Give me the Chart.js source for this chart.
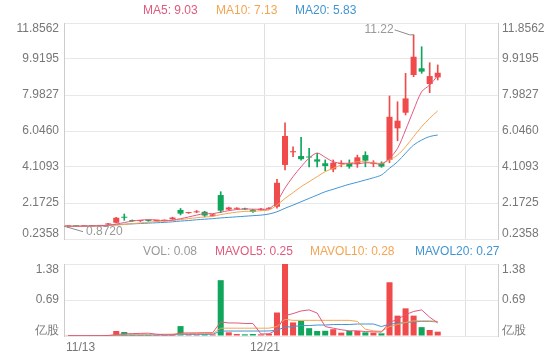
<!DOCTYPE html>
<html>
<head>
<meta charset="utf-8">
<title>K线</title>
<script src="https://cdn.jsdelivr.net/npm/chart.js@4.4.0/dist/chart.umd.min.js"></script>
<style>
    body { margin: 0; background: #fff; }
    #wrap { position: relative; width: 560px; height: 360px; font-family: "Liberation Sans", Arial, sans-serif; font-size: 12px; }
    #kBox { position: absolute; left: 0; top: 0; width: 560px; height: 245px; }
    #vBox { position: absolute; left: 0; top: 245px; width: 560px; height: 115px; }
    .lg { position: absolute; white-space: nowrap; line-height: 14px; }
</style>
</head>
<body>
<div id="wrap">
    <div id="kBox"><canvas id="kline"></canvas></div>
    <div id="vBox"><canvas id="vol"></canvas></div>
    <span class="lg" id="lgMa5" style="left:143px; top:3px; color:#df5a7d"></span>
    <span class="lg" id="lgMa10" style="left:216px; top:3px; color:#f4a553"></span>
    <span class="lg" id="lgMa20" style="left:295px; top:3px; color:#4195d3"></span>
    <span class="lg" id="lgVol" style="left:143px; top:244px; color:#999"></span>
    <span class="lg" id="lgMv5" style="left:215px; top:244px; color:#df5a7d"></span>
    <span class="lg" id="lgMv10" style="left:310px; top:244px; color:#f4a553"></span>
    <span class="lg" id="lgMv20" style="left:415px; top:244px; color:#4195d3"></span>
</div>
<script>
    // 54 slots on the axis, 47 trading days drawn
    const slotCount = 54;
    const xTickIdx = [0, 25];
    const xTickLabels = ['11/13', '12/21'];

    const openP  = [0.92,0.93,0.92,0.93,0.94,1.02,1.11,1.42,1.24,1.20,1.22,1.21,1.22,1.30,1.80,1.63,1.67,1.70,1.48,2.60,1.82,1.86,1.88,1.80,1.80,1.86,1.97,4.22,4.90,4.70,4.65,4.52,4.31,3.98,4.27,4.27,4.27,4.75,4.29,4.31,4.49,6.19,7.03,9.06,9.42,8.57,8.93];
    const closeP = [0.93,0.92,0.93,0.94,0.96,1.06,1.38,1.38,1.20,1.22,1.21,1.22,1.24,1.39,1.60,1.66,1.70,1.50,1.56,1.76,1.93,1.89,1.83,1.69,1.86,1.90,3.26,5.78,4.96,4.53,4.62,4.40,4.16,4.34,4.30,4.13,4.63,4.45,4.32,4.13,6.81,6.60,7.80,10.04,9.24,9.00,9.18];
    const highP  = [0.95,0.94,0.94,0.95,0.97,1.08,1.40,1.58,1.26,1.24,1.25,1.24,1.26,1.41,1.88,1.68,1.77,1.73,1.57,2.78,1.95,1.92,1.90,1.83,1.88,1.92,3.45,6.49,5.20,5.71,5.11,4.85,4.49,4.49,4.45,4.49,4.75,4.93,4.45,4.39,7.93,7.62,9.15,11.22,10.58,9.72,9.60];
    const lowP   = [0.872,0.90,0.91,0.92,0.93,1.00,1.10,1.24,1.18,1.17,1.18,1.18,1.20,1.29,1.53,1.61,1.65,1.43,1.46,1.65,1.80,1.84,1.81,1.67,1.78,1.84,1.90,3.95,4.66,4.48,4.12,4.12,3.91,3.85,4.12,4.04,4.09,4.12,4.12,4.09,4.34,5.52,6.91,8.97,9.15,8.11,8.79];

    const ma5  = [0.93,0.93,0.93,0.94,0.95,0.98,1.04,1.12,1.20,1.25,1.28,1.26,1.22,1.25,1.33,1.42,1.52,1.60,1.60,1.68,1.76,1.82,1.85,1.84,1.84,1.86,2.25,2.98,3.59,4.12,4.59,4.86,4.63,4.39,4.31,4.31,4.27,4.34,4.31,4.27,4.58,5.11,6.10,7.17,8.16,8.52,9.03];
    const ma10 = [0.92,0.92,0.92,0.92,0.93,0.95,0.98,1.02,1.06,1.10,1.14,1.17,1.20,1.23,1.28,1.33,1.38,1.42,1.45,1.55,1.62,1.68,1.72,1.73,1.76,1.80,2.06,2.42,2.73,3.05,3.32,3.59,3.86,4.04,4.22,4.31,4.39,4.39,4.34,4.31,4.49,4.75,5.20,5.74,6.28,6.73,7.13];
    const ma20 = [0.90,0.91,0.92,0.93,0.95,0.98,1.00,1.03,1.05,1.07,1.09,1.11,1.13,1.16,1.20,1.23,1.27,1.30,1.33,1.37,1.40,1.43,1.46,1.49,1.52,1.58,1.70,1.89,2.06,2.24,2.42,2.60,2.78,2.91,3.05,3.18,3.29,3.41,3.53,3.68,4.04,4.39,4.85,5.29,5.56,5.75,5.83];

    // volume in 亿股
    const vol    = [0.005,0.005,0.006,0.006,0.008,0.02,0.096,0.077,0.03,0.025,0.02,0.02,0.02,0.03,0.19,0.03,0.03,0.035,0.03,1.07,0.07,0.038,0.032,0.038,0.032,0.045,0.45,1.38,0.26,0.29,0.15,0.096,0.10,0.13,0.064,0.096,0.096,0.07,0.064,0.051,1.03,0.39,0.53,0.39,0.17,0.115,0.083];
    const mavol5  = [0.005,0.005,0.005,0.006,0.006,0.009,0.027,0.041,0.046,0.050,0.054,0.034,0.023,0.023,0.057,0.059,0.060,0.063,0.063,0.27,0.25,0.25,0.24,0.24,0.04,0.04,0.12,0.39,0.43,0.48,0.50,0.44,0.18,0.15,0.12,0.10,0.10,0.085,0.08,0.075,0.26,0.32,0.41,0.47,0.50,0.36,0.25];
    const mavol10 = [0.005,0.005,0.005,0.005,0.006,0.008,0.017,0.023,0.026,0.028,0.03,0.031,0.034,0.036,0.04,0.045,0.045,0.046,0.046,0.15,0.15,0.15,0.15,0.15,0.15,0.15,0.18,0.32,0.30,0.30,0.30,0.30,0.30,0.30,0.30,0.30,0.28,0.13,0.10,0.09,0.18,0.22,0.26,0.29,0.29,0.29,0.28];
    const mavol20 = [0.004,0.004,0.005,0.005,0.005,0.006,0.01,0.014,0.015,0.016,0.017,0.018,0.019,0.02,0.03,0.03,0.031,0.032,0.033,0.095,0.095,0.095,0.095,0.095,0.095,0.097,0.11,0.17,0.18,0.20,0.20,0.21,0.21,0.22,0.22,0.22,0.23,0.23,0.23,0.18,0.23,0.24,0.26,0.27,0.28,0.28,0.27];

    const priceTicks = [0.2358, 2.1725, 4.1093, 6.0460, 7.9827, 9.9195, 11.8562];
    const volTicks = [0, 0.69, 1.38];
    const volTickLabels = ['亿股', '0.69', '1.38'];

    const UP = '#f04a4a', DOWN = '#10a65c';
    const C5 = '#df5a7d', C10 = '#f4a553', C20 = '#4195d3';
    const FONT = '"Liberation Sans", Arial, sans-serif';
    Chart.defaults.font.family = FONT;

    const categories = Array.from({length: slotCount}, (_, i) => {
        const k = xTickIdx.indexOf(i);
        return k >= 0 ? xTickLabels[k] : '';
    });
    const candleColors = openP.map((o, i) => closeP[i] >= o ? UP : DOWN);

    // label on the edge ticks is pushed inside the grid
    function edgeLabel(text, i, n) {
        if (i === 0) return [text, ''];
        if (i === n - 1) return ['', text];
        return text;
    }

    function xScale() {
        return {
            offset: true,
            grid: {
                offset: true,
                drawTicks: false,
                color: ctx => (ctx.type === 'tick' && ctx.index % 25 === 0) ? '#e0e0e0' : 'transparent'
            },
            border: { display: false },
            ticks: { display: false, autoSkip: false },
            afterFit: s => { s.height = 0; }
        };
    }

    function yScale(pos, ticks, labels, width, grid) {
        return {
            position: pos,
            min: ticks[0],
            max: ticks[ticks.length - 1],
            afterBuildTicks: s => { s.ticks = ticks.map(v => ({value: v})); },
            afterFit: s => {
                s.width = width;
                s.paddingTop = 0;
                s.paddingBottom = 0;
            },
            grid: { display: grid, color: '#e8e8e8', drawTicks: false },
            border: { display: true, color: '#cccccc' },
            ticks: {
                padding: pos === 'left' ? 5 : 4,
                color: '#777',
                font: { size: 12, lineHeight: 0.92 },
                callback: (v, i) => edgeLabel(labels[i], i, ticks.length)
            }
        };
    }

    const extremes = {
        id: 'extremes',
        afterDatasetsDraw(chart) {
            const {ctx, scales: {x, y}} = chart;
            const hi = highP.indexOf(Math.max(...highP));
            const lo = lowP.indexOf(Math.min(...lowP));
            ctx.save();
            ctx.strokeStyle = '#8a8a8a';
            ctx.fillStyle = '#999';
            ctx.lineWidth = 1;
            ctx.font = '12px ' + FONT;
            ctx.textBaseline = 'middle';

            let px = x.getPixelForValue(hi), py = y.getPixelForValue(highP[hi]);
            ctx.beginPath();
            ctx.moveTo(px, py); ctx.lineTo(px - 4, py); ctx.lineTo(px - 19, py - 5);
            ctx.stroke();
            ctx.textAlign = 'right';
            ctx.fillText(highP[hi].toFixed(2), px - 20, py - 5);

            px = x.getPixelForValue(lo); py = y.getPixelForValue(lowP[lo]);
            ctx.beginPath();
            ctx.moveTo(px - 4, py - 1); ctx.lineTo(px + 15, py + 4.5);
            ctx.stroke();
            ctx.textAlign = 'left';
            ctx.fillText(lowP[lo].toFixed(4), px + 18, py + 4.5);
            ctx.restore();
        }
    };

    const dateLabels = {
        id: 'dateLabels',
        afterDraw(chart) {
            const {ctx, chartArea, scales: {x}} = chart;
            const half = (x.getPixelForValue(1) - x.getPixelForValue(0)) / 2;
            ctx.save();
            ctx.font = '12px ' + FONT;
            ctx.fillStyle = '#777';
            ctx.textBaseline = 'middle';
            xTickIdx.forEach((idx, k) => {
                const px = x.getPixelForValue(idx) - half;
                ctx.textAlign = k === 0 ? 'left' : 'center';
                ctx.fillText(xTickLabels[k], k === 0 ? px + 2 : px, chartArea.bottom + 12);
            });
            ctx.restore();
        }
    };

    function lineSet(data, color, tension) {
        return { type: 'line', data: data, borderColor: color, borderWidth: 1, pointRadius: 0, tension: tension, order: 0 };
    }

    const baseOptions = {
        responsive: true,
        maintainAspectRatio: false,
        animation: false,
        events: [],
        plugins: { legend: { display: false }, tooltip: { enabled: false } }
    };

    new Chart(document.getElementById('kline'), {
        type: 'bar',
        data: {
            labels: categories,
            datasets: [
                lineSet(ma5, C5, 0.3),
                lineSet(ma10, C10, 0.3),
                lineSet(ma20, C20, 0.3),
                {
                    data: openP.map((o, i) => [o, closeP[i]]),
                    backgroundColor: candleColors,
                    barPercentage: 0.75, categoryPercentage: 1,
                    grouped: false, minBarLength: 1, order: 1
                },
                {
                    data: lowP.map((l, i) => [l, highP[i]]),
                    backgroundColor: candleColors,
                    barThickness: 1, grouped: false, order: 2
                }
            ]
        },
        options: Object.assign({}, baseOptions, {
            layout: { padding: { top: 23, bottom: 6, left: 0, right: 0 } },
            scales: {
                x: xScale(),
                y: yScale('left', priceTicks, priceTicks.map(v => v.toFixed(4)), 64, true),
                y2: yScale('right', priceTicks, priceTicks.map(v => v.toFixed(4)), 62, false)
            }
        }),
        plugins: [extremes]
    });

    new Chart(document.getElementById('vol'), {
        type: 'bar',
        data: {
            labels: categories,
            datasets: [
                lineSet(mavol5, C5, 0),
                lineSet(mavol10, C10, 0),
                lineSet(mavol20, C20, 0),
                {
                    data: vol,
                    backgroundColor: candleColors,
                    barPercentage: 0.75, categoryPercentage: 1,
                    grouped: false, order: 1
                }
            ]
        },
        options: Object.assign({}, baseOptions, {
            layout: { padding: { top: 19, bottom: 24, left: 0, right: 0 } },
            scales: {
                x: xScale(),
                y: yScale('left', volTicks, volTickLabels, 64, true),
                y2: yScale('right', volTicks, volTickLabels, 62, false)
            }
        }),
        plugins: [dateLabels]
    });

    const last = a => a[a.length - 1].toFixed(2);
    document.getElementById('lgMa5').textContent = 'MA5: ' + last(ma5);
    document.getElementById('lgMa10').textContent = 'MA10: ' + last(ma10);
    document.getElementById('lgMa20').textContent = 'MA20: ' + last(ma20);
    document.getElementById('lgVol').textContent = 'VOL: ' + last(vol);
    document.getElementById('lgMv5').textContent = 'MAVOL5: ' + last(mavol5);
    document.getElementById('lgMv10').textContent = 'MAVOL10: ' + last(mavol10);
    document.getElementById('lgMv20').textContent = 'MAVOL20: ' + last(mavol20);
</script>
</body>
</html>
